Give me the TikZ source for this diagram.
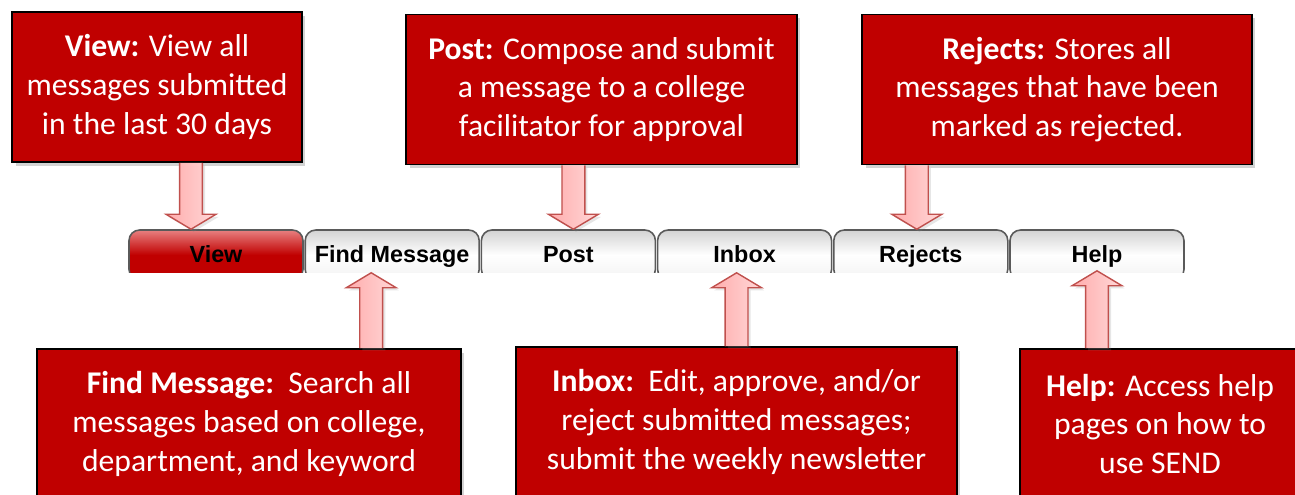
\documentclass[tikz,border=0pt]{standalone}
\usepackage{fontspec}
\setmainfont{Carlito}
\newfontfamily\tabfont{Liberation Sans}
\usepackage{tikz}
\usetikzlibrary{calc, shadows}

\definecolor{boxred}{RGB}{192,0,0}
\definecolor{arrowedge}{RGB}{192,80,77}
\definecolor{arrowdark}{RGB}{255,172,172}
\definecolor{arrowlight}{RGB}{255,216,216}
\definecolor{tabedge}{RGB}{90,90,90}
\definecolor{tabhigh}{RGB}{232,128,128}

\tikzset{
    descbox/.style={draw=black, line width=1.1pt, fill=boxred, text=white, align=center,
        minimum height=3cm, font=\fontsize{18}{22}\selectfont,
        drop shadow={opacity=0.35, shadow xshift=2pt, shadow yshift=-2pt}},
    tab/.style={draw=tabedge, line width=0.9pt, rounded corners=6pt,
        minimum width=3.48cm, minimum height=1cm, text height=11pt, text depth=2pt,
        top color=gray!35, bottom color=gray!10, middle color=white,
        font=\tabfont\bfseries\fontsize{13.3}{16}\selectfont},
    activetab/.style={tab, top color=tabhigh, bottom color=boxred, middle color=boxred},
    callarrow/.style={draw=arrowedge, line width=0.8pt, left color=arrowdark, right color=arrowlight,
        drop shadow={opacity=0.2, shadow xshift=1.5pt, shadow yshift=-1.5pt}}
}

% block arrow from a box edge to a tip, head at the tip end
\newcommand{\calloutarrow}[2]{%
    \draw[callarrow] let \p1=(#1), \p2=(#2), \n1={17*(\y1>\y2)-8.5} in
        ({\x2-6.5pt},\y1) -- ({\x2-6.5pt},{\y2+\n1}) -- ({\x2-14.2pt},{\y2+\n1}) -- (\x2,\y2)
        -- ({\x2+14.2pt},{\y2+\n1}) -- ({\x2+6.5pt},{\y2+\n1}) -- ({\x2+6.5pt},\y1);}

\begin{document}
\begin{tikzpicture}[x=0.02cm, y=-0.02cm]

    \clip (0,0) rectangle (1295,494);

    % Tab bar, cut off at the bottom
    \begin{scope}
        \clip (0,0) rectangle (1295,272);
        \node[activetab] (tabView) at (216,255) {View};
        \foreach \name/\lbl [count=\i] in {Find/Find Message, Post/Post, Inbox/Inbox, Rejects/Rejects, Help/Help}
            \node[tab] (tab\name) at (216+176.2*\i,255) {\lbl};
    \end{scope}

    % Boxes above the tabs
    \node[descbox, minimum width=5.8cm] (view) at (157,87)
        {\textbf{View:} View all\\messages submitted\\in the last 30 days};
    \node[descbox, minimum width=7.82cm] (post) at (601.5,89.5)
        {\textbf{Post:} Compose and submit\\a message to a college\\facilitator for approval};
    \node[descbox, minimum width=7.8cm] (rejects) at (1057,89.5)
        {\textbf{Rejects:} Stores all\\messages that have been\\marked as rejected.};

    % Boxes below the tabs
    \node[descbox, minimum width=8.48cm] (find) at (249,424)
        {\textbf{Find Message:}\ \ Search all\\messages based on college,\\department, and keyword};
    \node[descbox, minimum width=8.82cm] (inbox) at (736.5,422)
        {\textbf{Inbox:}\ \ Edit, approve, and/or\\reject submitted messages;\\submit the weekly newsletter};
    \node[descbox, minimum width=5.6cm] (help) at (1160,424)
        {\textbf{Help:} Access help\\pages on how to\\use SEND};

    % Arrow tips on the tabs
    \coordinate (tipView) at ([xshift=-0.5cm]tabView.north);
    \coordinate (tipPost) at ([xshift=0.1cm]tabPost.north);
    \coordinate (tipRejects) at ([xshift=-0.08cm]tabRejects.north);
    \coordinate (tipFind) at ([xshift=-0.42cm, yshift=0.16cm]tabFind.south);
    \coordinate (tipInbox) at ([xshift=-0.16cm, yshift=0.16cm]tabInbox.south);
    \coordinate (tipHelp) at ([yshift=0.2cm]tabHelp.south);

    \calloutarrow{view.south}{tipView}
    \calloutarrow{post.south}{tipPost}
    \calloutarrow{rejects.south}{tipRejects}
    \calloutarrow{find.north}{tipFind}
    \calloutarrow{inbox.north}{tipInbox}
    \calloutarrow{help.north}{tipHelp}

\end{tikzpicture}
\end{document}
